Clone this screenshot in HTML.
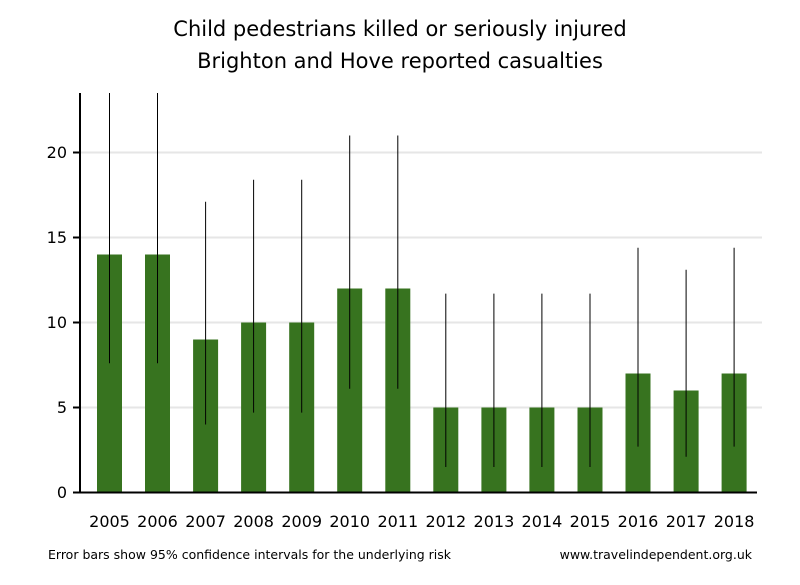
<!DOCTYPE html>
<html><head><style>
html,body{margin:0;padding:0;background:#fff;}
svg text{font-family:"DejaVu Sans","Liberation Sans",sans-serif;fill:#000;}
</style></head><body>
<svg width="800" height="580" xmlns="http://www.w3.org/2000/svg">
<rect width="800" height="580" fill="#fff"/>
<text x="400" y="36" font-size="21" text-anchor="middle">Child pedestrians killed or seriously injured</text>
<text x="400" y="68" font-size="21" text-anchor="middle">Brighton and Hove reported casualties</text>
<g stroke="#e6e6e6" stroke-width="2">
<line x1="81" x2="762" y1="407.5" y2="407.5"/>
<line x1="81" x2="762" y1="322.5" y2="322.5"/>
<line x1="81" x2="762" y1="237.5" y2="237.5"/>
<line x1="81" x2="762" y1="152.5" y2="152.5"/>
</g>
<g fill="#37731f">
<rect x="97" y="254.5" width="25" height="238"/>
<rect x="145" y="254.5" width="25" height="238"/>
<rect x="193.1" y="339.5" width="25" height="153"/>
<rect x="241.1" y="322.5" width="25" height="170"/>
<rect x="289.2" y="322.5" width="25" height="170"/>
<rect x="337.2" y="288.5" width="25" height="204"/>
<rect x="385.3" y="288.5" width="25" height="204"/>
<rect x="433.3" y="407.5" width="25" height="85"/>
<rect x="481.4" y="407.5" width="25" height="85"/>
<rect x="529.4" y="407.5" width="25" height="85"/>
<rect x="577.5" y="407.5" width="25" height="85"/>
<rect x="625.5" y="373.5" width="25" height="119"/>
<rect x="673.6" y="390.5" width="25" height="102"/>
<rect x="721.6" y="373.5" width="25" height="119"/>
</g>
<g stroke="#000" stroke-width="1">
<line x1="109.5" x2="109.5" y1="93" y2="363.3"/>
<line x1="157.5" x2="157.5" y1="93" y2="363.3"/>
<line x1="205.6" x2="205.6" y1="201.8" y2="424.5"/>
<line x1="253.6" x2="253.6" y1="179.7" y2="412.6"/>
<line x1="301.7" x2="301.7" y1="179.7" y2="412.6"/>
<line x1="349.7" x2="349.7" y1="135.5" y2="388.8"/>
<line x1="397.8" x2="397.8" y1="135.5" y2="388.8"/>
<line x1="445.8" x2="445.8" y1="293.6" y2="467"/>
<line x1="493.9" x2="493.9" y1="293.6" y2="467"/>
<line x1="541.9" x2="541.9" y1="293.6" y2="467"/>
<line x1="590" x2="590" y1="293.6" y2="467"/>
<line x1="638" x2="638" y1="247.7" y2="446.6"/>
<line x1="686.1" x2="686.1" y1="269.8" y2="456.8"/>
<line x1="734.1" x2="734.1" y1="247.7" y2="446.6"/>
</g>
<g stroke="#000" stroke-width="2">
<line x1="80" x2="80" y1="93" y2="493.5"/>
<line x1="73" x2="757" y1="492.5" y2="492.5"/>
<line x1="73" x2="80" y1="407.5" y2="407.5"/>
<line x1="73" x2="80" y1="322.5" y2="322.5"/>
<line x1="73" x2="80" y1="237.5" y2="237.5"/>
<line x1="73" x2="80" y1="152.5" y2="152.5"/>
</g>
<g font-size="16" text-anchor="end">
<text x="67" y="498">0</text>
<text x="67" y="413">5</text>
<text x="67" y="328">10</text>
<text x="67" y="243">15</text>
<text x="67" y="158">20</text>
</g>
<g font-size="16" text-anchor="middle">
<text x="109.5" y="527">2005</text>
<text x="157.5" y="527">2006</text>
<text x="205.6" y="527">2007</text>
<text x="253.6" y="527">2008</text>
<text x="301.7" y="527">2009</text>
<text x="349.7" y="527">2010</text>
<text x="397.8" y="527">2011</text>
<text x="445.8" y="527">2012</text>
<text x="493.9" y="527">2013</text>
<text x="541.9" y="527">2014</text>
<text x="590" y="527">2015</text>
<text x="638" y="527">2016</text>
<text x="686.1" y="527">2017</text>
<text x="734.1" y="527">2018</text>
</g>
<text x="48" y="559" font-size="12.5">Error bars show 95% confidence intervals for the underlying risk</text>
<text x="752" y="559" font-size="12.5" text-anchor="end">www.travelindependent.org.uk</text>
</svg>
</body></html>
